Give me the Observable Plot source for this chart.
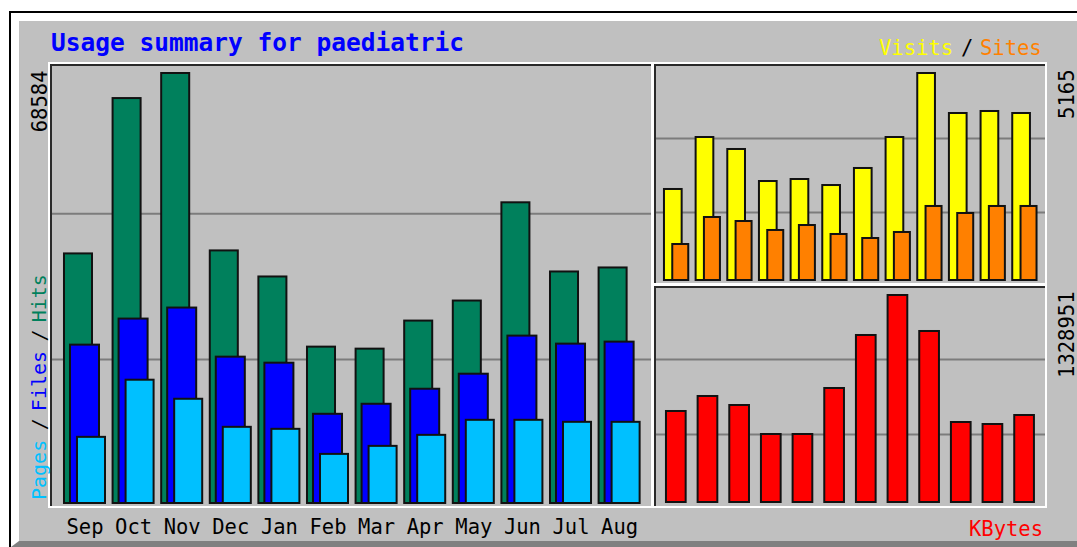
<!DOCTYPE html>
<html><head><meta charset="utf-8">
<script src="https://cdn.jsdelivr.net/npm/d3@7"></script>
<script src="https://cdn.jsdelivr.net/npm/@observablehq/plot@0.6"></script>
<style>
html,body{margin:0;padding:0;background:#fff;}
#page{position:relative;width:1077px;height:547px;overflow:hidden;font-family:"DejaVu Sans Mono",monospace;}
#outer{position:absolute;left:9px;top:11px;width:1100px;height:536px;box-sizing:border-box;border-left:2px solid #000;border-top:2px solid #000;}
#bevel{position:absolute;left:0;top:0;right:0;bottom:0;box-sizing:border-box;background:#c0c0c0;border-left:8px solid #fff;border-top:8px solid #fff;border-bottom:6px solid #808080;}
.frame{position:absolute;box-sizing:border-box;border:2px solid #fff;}
.frame > div{position:absolute;left:0;top:0;right:0;bottom:0;border-left:2px solid #2a2a2a;border-top:2px solid #2a2a2a;}
.lbl{position:absolute;white-space:pre;line-height:1;font-size:20.5px;}
.chart{position:absolute;}
.vleg{position:absolute;white-space:pre;line-height:1;font-size:20px;transform-origin:0 0;transform:rotate(-90deg);}
.vleg .sep{letter-spacing:-2.5px;}
</style></head><body>
<div id="page">
  <div id="outer"><div id="bevel"></div></div>
  <div class="frame" style="left:48px;top:62px;width:605px;height:446px"><div></div></div>
  <div class="frame" style="left:652px;top:62px;width:395px;height:223px"><div></div></div>
  <div class="frame" style="left:652px;top:284px;width:395px;height:224px"><div></div></div>
  <div class="chart" id="main" style="left:20px;top:21px"></div>
  <div class="chart" id="vs" style="left:656px;top:21px"></div>
  <div class="chart" id="kb" style="left:656px;top:284px"></div>
  <div class="lbl" id="title" style="left:51px;top:31px;font-size:24.5px;font-weight:bold;color:#0000ff"></div>
  <div class="lbl" id="lVisits" style="left:879px;top:37.5px;color:#ffff00"></div>
  <div class="lbl" id="lSlash" style="left:961px;top:37.5px;color:#000"></div>
  <div class="lbl" id="lSites" style="left:980px;top:37.5px;color:#ff8000"></div>
  <div class="lbl" id="lKB" style="left:969px;top:518.5px;color:#ff0000"></div>
  <div class="vleg" id="vleg" style="left:29px;top:500px"></div>
</div>
<script>
// ---- data ----
const months = ["Sep","Oct","Nov","Dec","Jan","Feb","Mar","Apr","May","Jun","Jul","Aug"];
const hits   = [39808, 64587, 68584, 40287, 36130, 24940, 24620, 29096, 32293, 47960, 36929, 37569];
const files  = [25259, 29416, 31174, 23341, 22381, 14228, 15827, 18225, 20623, 26698, 25419, 25739];
const pages  = [10551, 19664, 16626, 12150, 11830,  7834,  9112, 10871, 13269, 13269, 12949, 12949];
const visits = [2271, 3568, 3269, 2470, 2520, 2370, 2795, 3568, 5165, 4167, 4217, 4167];
const sites  = [ 898, 1572, 1472, 1248, 1372, 1148, 1048, 1198, 1847, 1672, 1847, 1847];
const kbytes = [584240, 680531, 622743, 436564, 436564, 731905, 1072196, 1328951, 1097876, 513604, 500764, 558551];
const titleText = "Usage summary for paediatric";
const legendLeft = [["Pages","#00c0ff"],[" / ","#000"],["Files","#0000ff"],[" / ","#000"],["Hits","#00805c"]];
// gridlines sit at 1/3 and 2/3 of each panel's frame (expressed as fractions of the panel's max)
const gridMain = [0.335, 0.674];
const gridVS   = [0.3285, 0.686];
const gridKB   = [0.3285, 0.691];

const C = {hits:"#00805c", files:"#0000ff", pages:"#00c0ff", visits:"#ffff00", sites:"#ff8000", kbytes:"#ff0000", grid:"#7c7c7c"};
const rows = months.map((m,i)=>({m, hits:hits[i], files:files[i], pages:pages[i], visits:visits[i], sites:sites[i], kbytes:kbytes[i]}));
const style = {background:"transparent", fontFamily:"DejaVu Sans Mono, monospace", fontSize:"20.5px", color:"#000", overflow:"visible"};
const barStyle = {stroke:"#111", strokeWidth:2};

const hMax = d3.max(hits), vMax = d3.max(visits), kMax = d3.max(kbytes);
const grid = (max, fr) => Plot.ruleY(fr.map(f => f*max), {stroke:C.grid, strokeWidth:2});

// main panel
const main = Plot.plot({
  width:632, height:524, marginLeft:32, marginRight:1, marginTop:45, marginBottom:39,
  style,
  x:{type:"band", domain:months, range:[36.4,627.2], padding:0.156, round:false, axis:"bottom", tickSize:0, tickPadding:13, label:null},
  y:{domain:[0,hMax], range:[482,52], axis:null},
  marks:[
    grid(hMax, gridMain),
    Plot.barY(rows, {x:"m", y:"hits", fill:C.hits, insetRight:13, ...barStyle}),
    Plot.barY(rows, {x:"m", y:"files", fill:C.files, insetLeft:6, insetRight:6, ...barStyle}),
    Plot.barY(rows, {x:"m", y:"pages", fill:C.pages, insetLeft:13, ...barStyle}),
    Plot.text([hMax], {y:d=>d, text:d=>String(d), frameAnchor:"left", rotate:-90, textAnchor:"end", lineAnchor:"bottom", dx:-6, dy:-3, fill:"#000", fontSize:20.5})
  ]
});
document.getElementById("main").appendChild(main);

// visits / sites panel
const vs = Plot.plot({
  width:421, height:263, marginLeft:0, marginRight:32, marginTop:45, marginBottom:1,
  style,
  x:{type:"band", domain:months, range:[0.6,387.9], padding:0.2325, round:false, axis:null},
  y:{domain:[0,vMax], range:[259,52], axis:null},
  marks:[
    grid(vMax, gridVS),
    Plot.barY(rows, {x:"m", y:"visits", fill:C.visits, insetRight:6.6, ...barStyle}),
    Plot.barY(rows, {x:"m", y:"sites", fill:C.sites, insetLeft:8.3, ...barStyle}),
    Plot.text([vMax], {y:d=>d, text:d=>String(d), frameAnchor:"right", rotate:-90, textAnchor:"end", lineAnchor:"bottom", dx:28, dy:-4, fill:"#000", fontSize:20.5})
  ]
});
document.getElementById("vs").appendChild(vs);

// kbytes panel
const kb = Plot.plot({
  width:421, height:261, marginLeft:0, marginRight:32, marginTop:4, marginBottom:39,
  style,
  x:{type:"band", domain:months, range:[0.6,387.9], padding:0.2325, round:false, axis:null},
  y:{domain:[0,kMax], range:[218,11], axis:null},
  marks:[
    grid(kMax, gridKB),
    Plot.barY(rows, {x:"m", y:"kbytes", fill:C.kbytes, insetLeft:2, insetRight:2.6, ...barStyle}),
    Plot.text([kMax], {y:d=>d, text:d=>String(d), frameAnchor:"right", rotate:-90, textAnchor:"end", lineAnchor:"bottom", dx:28, dy:-4, fill:"#000", fontSize:20.5})
  ]
});
document.getElementById("kb").appendChild(kb);

// texts
document.getElementById("title").textContent = titleText;
document.getElementById("lVisits").textContent = "Visits";
document.getElementById("lSlash").textContent = "/";
document.getElementById("lSites").textContent = "Sites";
document.getElementById("lKB").textContent = "KBytes";
const vl = document.getElementById("vleg");
for (const [t,c] of legendLeft) {
  const s = document.createElement("span");
  s.textContent = t; s.style.color = c;
  if (t.trim() === "/") s.className = "sep";
  vl.appendChild(s);
}
</script>
</body></html>
